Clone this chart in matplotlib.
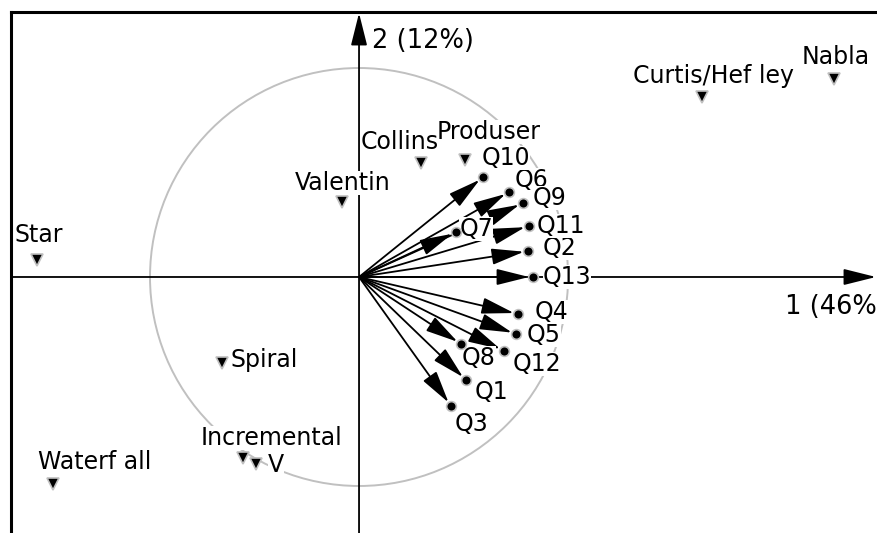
import matplotlib.pyplot as plt
from matplotlib.patches import Circle

# objects (triangles)
objects = ["Star", "Valentin", "Collins", "Produser", "Curtis/Hef ley", "Nabla",
           "Spiral", "Incremental", "V", "Waterf all"]
obj_x = [-1.541, -0.081, 0.297, 0.507, 1.641, 2.273, -0.656, -0.555, -0.493, -1.464]
obj_y = [0.081, 0.359, 0.545, 0.560, 0.861, 0.947, -0.411, -0.866, -0.895, -0.990]

# variables (loading vectors)
variables = ["Q1", "Q2", "Q3", "Q4", "Q5", "Q6", "Q7", "Q8", "Q9", "Q10", "Q11", "Q12", "Q13"]
var_x = [0.512, 0.809, 0.440, 0.761, 0.751, 0.718, 0.464, 0.488, 0.785, 0.593, 0.813, 0.694, 0.833]
var_y = [-0.493, 0.124, -0.617, -0.177, -0.273, 0.407, 0.215, -0.321, 0.354, 0.478, 0.244, -0.354, 0.0]

axis1_label = "1 (46%)"
axis2_label = "2 (12%)"

# label offsets in pixels
obj_off = [(2, 25), (1, 19), (-21, 21), (24, 28), (11, 21), (2, 22),
           (42, 3), (28, 20), (20, -1), (42, 22)]
var_off = [(25, -12), (31, 3), (20, -18), (33, 2), (28, -1), (22, 12), (20, 3),
           (18, -14), (26, 5), (23, 19), (32, 0), (33, -13), (34, 0)]

W, H = 877, 533
fig = plt.figure(figsize=(W / 100, H / 100), dpi=100)
ax = fig.add_axes([11 / W, 0, 866 / W, 521 / H])
x0, x1 = -1.665, 2.478
y0, y1 = -1.225, 1.268
ax.set_xlim(x0, x1)
ax.set_ylim(y0, y1)
ax.set_xticks([])
ax.set_yticks([])
for s in ["right", "bottom"]:
    ax.spines[s].set_visible(False)
for s in ["left", "top"]:
    ax.spines[s].set_linewidth(2.2)

plt.rcParams["font.family"] = "DejaVu Sans"
fs = 17

# unit circle
ax.add_patch(Circle((0, 0), 1.0, fill=False, ec="#c0c0c0", lw=1.4, zorder=1))

axis_style = "-|>,head_length=1.0,head_width=0.25"
ax.annotate("", xy=(x1 - 0.005, 0), xytext=(x0, 0),
            arrowprops=dict(arrowstyle=axis_style, mutation_scale=20, lw=1.3,
                            color="black", shrinkA=0, shrinkB=0), zorder=2)
ax.annotate("", xy=(0, y1 - 0.005), xytext=(0, y0),
            arrowprops=dict(arrowstyle=axis_style, mutation_scale=20, lw=1.3,
                            color="black", shrinkA=0, shrinkB=0), zorder=2)
ax.annotate(axis2_label, xy=(0, y1), xytext=(13, -29), textcoords="offset pixels",
            ha="left", va="center", fontsize=18.5)
ax.annotate(axis1_label, xy=(x1, 0), xytext=(-92, -30), textcoords="offset pixels",
            ha="left", va="center", fontsize=18.5)

# vectors
for vx, vy in zip(var_x, var_y):
    ax.annotate("", xy=(vx, vy), xytext=(0, 0),
                arrowprops=dict(arrowstyle=axis_style, mutation_scale=20, lw=1.3,
                                color="black", shrinkA=0, shrinkB=3), zorder=3)
ax.plot(var_x, var_y, "o", ms=7, mfc="black", mec="#c0c0c0", mew=1.2, zorder=6)
for name, vx, vy, (dx, dy) in zip(variables, var_x, var_y, var_off):
    ax.annotate(name, xy=(vx, vy), xytext=(dx, dy), textcoords="offset pixels",
                ha="center", va="center", fontsize=fs, zorder=4,
                bbox=dict(boxstyle="square,pad=0", fc="white", ec="none"))

# objects
ax.plot(obj_x, obj_y, "v", ms=9, mfc="black", mec="#c0c0c0", mew=1.2, zorder=6)
for name, ox, oy, (dx, dy) in zip(objects, obj_x, obj_y, obj_off):
    ax.annotate(name, xy=(ox, oy), xytext=(dx, dy), textcoords="offset pixels",
                ha="center", va="center", fontsize=fs, zorder=4,
                bbox=dict(boxstyle="square,pad=0", fc="white", ec="none"))

fig.savefig("out.png", dpi=100)
